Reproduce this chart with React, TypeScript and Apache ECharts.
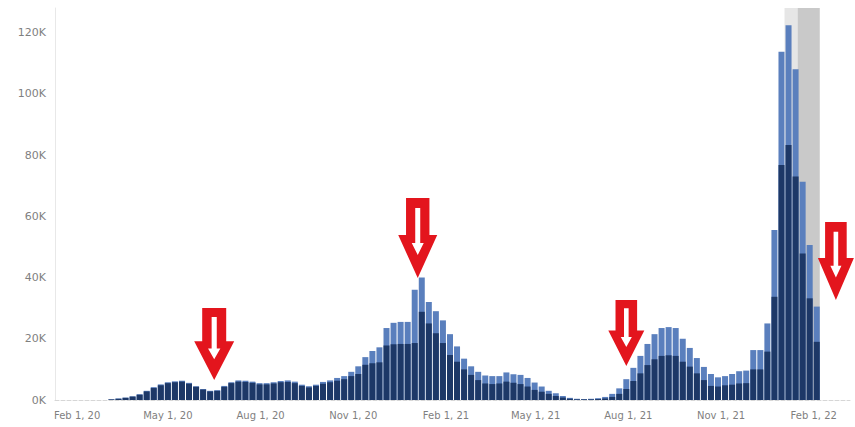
import React, { useEffect, useRef } from 'react';
import * as echarts from 'echarts';

// Weekly values (thousands). totalK = full bar (light blue top), darkK = dark navy part
const totalK = [
  0.2, 0.5, 0.8, 1.2, 1.9, 3.0, 4.2, 5.1, 5.8, 6.1, 6.3,
  5.6, 4.5, 3.6, 3.0, 3.2, 4.6, 5.8, 6.4, 6.3, 6.0,
  5.5, 5.5, 5.8, 6.2, 6.4, 6.0, 5.0, 4.5, 5.0, 5.9,
  6.4, 7.2, 7.8, 9.2, 11.0, 14.0, 16.0, 17.2, 23.5, 25.2,
  25.5, 25.5, 36.0, 40.0, 32.0, 29.0, 26.0, 21.5, 17.5, 13.5,
  11.0, 9.2, 8.0, 7.8, 7.8, 9.0, 8.4, 8.2, 7.2, 5.7,
  4.4, 3.0, 2.2, 1.3, 0.7, 0.4, 0.3, 0.4, 0.6, 1.0,
  2.0, 3.8, 6.8, 10.5, 14.4, 18.3, 21.5, 23.5, 23.8, 23.5,
  20.0, 17.0, 13.7, 10.8, 8.5, 7.4, 7.8, 8.5, 9.4, 9.6,
  16.3, 16.3, 25.0, 55.5, 113.7, 122.4, 108.0, 71.3, 50.6, 30.5,
];

const darkK = [
  0.2, 0.4, 0.7, 1.1, 1.7, 2.8, 3.9, 4.8, 5.5, 5.8, 6.0,
  5.3, 4.3, 3.4, 2.8, 3.0, 4.3, 5.5, 6.0, 5.9, 5.6,
  5.1, 5.1, 5.4, 5.8, 5.9, 5.5, 4.6, 4.1, 4.6, 5.3,
  5.8, 6.3, 6.8, 7.8, 8.5, 11.5, 12.0, 12.3, 17.8, 18.2,
  18.3, 18.3, 18.6, 28.8, 25.0, 21.8, 18.6, 14.7, 12.5, 10.0,
  8.2, 6.5, 5.4, 5.2, 5.4, 6.0, 5.6, 5.2, 4.4, 3.3,
  2.7, 2.0, 1.3, 0.8, 0.4, 0.2, 0.2, 0.2, 0.3, 0.5,
  1.0, 2.0, 3.6, 6.2, 8.7, 11.4, 13.3, 14.4, 14.6, 14.4,
  12.5, 10.9, 8.7, 6.5, 4.6, 4.4, 4.8, 5.0, 5.4, 5.5,
  10.0, 10.0, 15.8, 33.7, 76.7, 83.3, 73.0, 47.8, 33.2, 19.0,
];

// first week of the series (year, monthIndex, day)
const firstWeek = [2020, 2, 6];

const tickDates = [
  [2020, 1, 1], [2020, 4, 1], [2020, 7, 1], [2020, 10, 1],
  [2021, 1, 1], [2021, 4, 1], [2021, 7, 1], [2021, 10, 1], [2022, 1, 1],
];
const tickLabels = [
  'Feb 1, 20', 'May 1, 20', 'Aug 1, 20', 'Nov 1, 20',
  'Feb 1, 21', 'May 1, 21', 'Aug 1, 21', 'Nov 1, 21', 'Feb 1, 22',
];

// shaded (incomplete) periods
const shadeStarts = [[2022, 0, 3], [2022, 0, 16]];
const shadeEnds = [[2022, 0, 16], [2022, 1, 7]];

// red arrow annotations: [y, m, d, valueK]
const arrowPoints = [
  [2020, 5, 16, 18.3],
  [2021, 0, 4, 52.9],
  [2021, 6, 30, 21.9],
  [2022, 1, 23, 45.4],
];

const ts = (d: number[]) => new Date(d[0], d[1], d[2]).getTime();

export default function App() {
  const ref = useRef<HTMLDivElement>(null);

  useEffect(() => {
    if (!ref.current) return;
    const chart = echarts.init(ref.current, undefined, { renderer: 'svg' });

    const weekTimes = totalK.map((_, i) =>
      new Date(firstWeek[0], firstWeek[1], firstWeek[2] + 7 * i).getTime()
    );
    const tickTimes = tickDates.map(ts);

    const RED = '#e3151d';
    const outerPath = 'path://M8 0 H32 V37 H40 L20 80 L0 37 H8 Z';
    const innerPath = 'path://M3.5 0 H8.5 V35 H12 L6 47 L0 35 H3.5 Z';
    const arrowSizes = [[40, 72], [39, 80], [36, 66], [36, 78]];

    const markData: any[] = [];
    arrowPoints.forEach((p, k) => {
      const [w, h] = arrowSizes[k];
      const coord = [ts(p), p[3] * 1000];
      markData.push({
        coord,
        symbol: outerPath,
        symbolSize: [w, h],
        itemStyle: { color: RED },
      });
      markData.push({
        coord,
        symbol: innerPath,
        symbolSize: [w * 12 / 39, h * 47 / 80],
        symbolOffset: [0, -h * 6.5 / 80],
        itemStyle: { color: '#ffffff' },
      });
    });

    const option: any = {
      animation: false,
      grid: { left: 55, right: 5, top: 8, bottom: 27, containLabel: false },
      xAxis: {
        type: 'value',
        min: new Date(2020, 0, 10).getTime(),
        max: new Date(2022, 2, 9).getTime(),
        scale: true,
        axisLine: { show: true, onZero: false, lineStyle: { color: '#d6d6d6', type: 'dashed', width: 1 } },
        axisTick: { show: false },
        splitLine: { show: false },
        axisLabel: {
          customValues: tickTimes,
          formatter: (v: number) => {
            const idx = tickTimes.indexOf(v);
            return idx >= 0 ? tickLabels[idx] : '';
          },
          color: '#7f7f7f',
          fontSize: 10,
          fontFamily: 'DejaVu Sans',
          margin: 10,
          hideOverlap: false,
        },
      },
      yAxis: {
        type: 'value',
        min: 0,
        max: 128000,
        interval: 20000,
        axisLine: { show: true, lineStyle: { color: '#e8e8e8' } },
        axisTick: { show: false },
        splitLine: { show: false },
        axisLabel: {
          showMaxLabel: false,
          formatter: (v: number) => (v % 20000 === 0 ? v / 1000 + 'K' : ''),
          color: '#7f7f7f',
          fontSize: 11,
          fontFamily: 'DejaVu Sans',
          margin: 9,
        },
      },
      series: [
        {
          type: 'bar',
          name: 'Total',
          barWidth: 6,
          barGap: '-100%',
          itemStyle: { color: '#5a7fbd' },
          data: weekTimes.map((t, i) => [t, totalK[i] * 1000]),
          markArea: {
            silent: true,
            data: shadeStarts.map((s, k) => [
              { xAxis: ts(s), itemStyle: { color: k === 0 ? '#e6e6e6' : '#c9c9c9' } },
              { xAxis: ts(shadeEnds[k]) },
            ]),
          },
        },
        {
          type: 'bar',
          name: 'Dark',
          barWidth: 6,
          barGap: '-100%',
          itemStyle: { color: '#1d3867' },
          data: weekTimes.map((t, i) => [t, darkK[i] * 1000]),
          markPoint: {
            silent: true,
            label: { show: false },
            data: markData,
          },
        },
      ],
    };

    chart.setOption(option);
    return () => chart.dispose();
  }, []);

  return (
    <div
      ref={ref}
      style={{ position: 'fixed', left: 0, top: 0, width: 855, height: 427, background: '#fff' }}
    />
  );
}
